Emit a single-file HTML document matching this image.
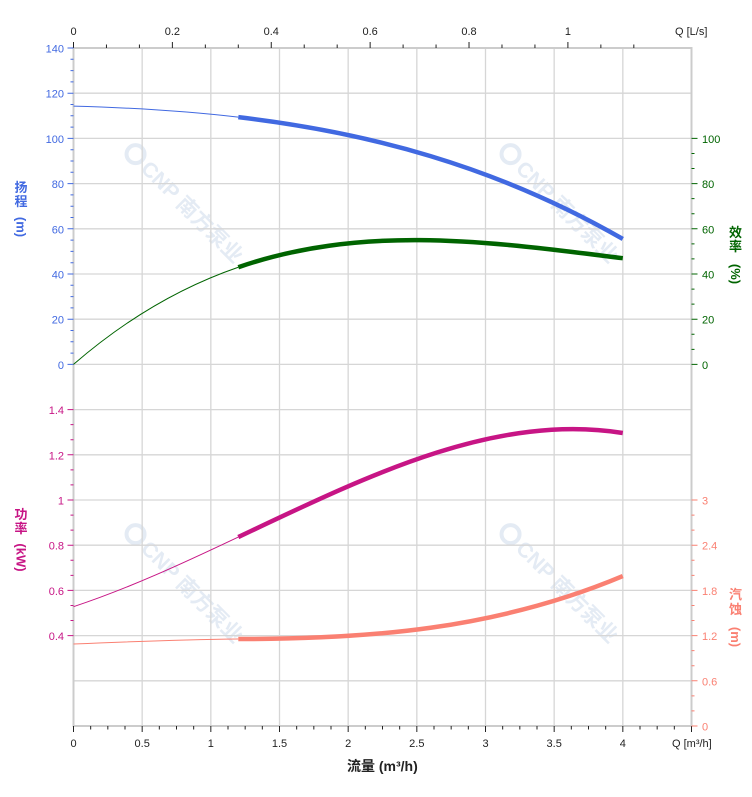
<!DOCTYPE html>
<html><head><meta charset="utf-8"><style>
html,body{margin:0;padding:0;background:#fff;}
svg{display:block;font-family:"Liberation Sans","Noto Sans CJK SC",sans-serif;}
</style></head><body>
<svg width="752" height="797" viewBox="0 0 752 797" xmlns="http://www.w3.org/2000/svg">
<rect width="752" height="797" fill="#fff"/>
<!-- watermarks -->
<g fill="#e4ebf4" stroke="none" font-weight="bold" font-size="21">
<g transform="translate(190,210) rotate(45)"><circle cx="-78" cy="-1" r="9" fill="none" stroke="#e4ebf4" stroke-width="4"/><text x="-64" y="7">CNP 南方泵业</text></g>
<g transform="translate(565,210) rotate(45)"><circle cx="-78" cy="-1" r="9" fill="none" stroke="#e4ebf4" stroke-width="4"/><text x="-64" y="7">CNP 南方泵业</text></g>
<g transform="translate(190,590) rotate(45)"><circle cx="-78" cy="-1" r="9" fill="none" stroke="#e4ebf4" stroke-width="4"/><text x="-64" y="7">CNP 南方泵业</text></g>
<g transform="translate(565,590) rotate(45)"><circle cx="-78" cy="-1" r="9" fill="none" stroke="#e4ebf4" stroke-width="4"/><text x="-64" y="7">CNP 南方泵业</text></g>
</g>
<!-- grid -->
<path fill="none" stroke="#d6d6d6" stroke-width="1.3" d="M73.5 93.2H691.5M73.5 138.4H691.5M73.5 183.6H691.5M73.5 228.8H691.5M73.5 274H691.5M73.5 319.2H691.5M73.5 364.4H691.5M73.5 409.6H691.5M73.5 454.8H691.5M73.5 500H691.5M73.5 545.2H691.5M73.5 590.4H691.5M73.5 635.6H691.5M73.5 680.8H691.5
M142.17 48V726M210.83 48V726M279.5 48V726M348.17 48V726M416.83 48V726M485.5 48V726M554.17 48V726M622.83 48V726"/>
<rect x="73.5" y="48" width="618" height="678" fill="none" stroke="#cccccc" stroke-width="2"/>
<!-- top ticks -->
<path fill="none" stroke="#222" stroke-width="1" d="M73.5 42v6M172.38 42v6M271.26 42v6M370.14 42v6M469.02 42v6M567.9 42v6
M106.46 44.5v3.5M139.42 44.5v3.5M205.34 44.5v3.5M238.3 44.5v3.5M304.22 44.5v3.5M337.18 44.5v3.5M403.1 44.5v3.5M436.06 44.5v3.5M501.98 44.5v3.5M534.94 44.5v3.5M600.86 44.5v3.5M633.82 44.5v3.5"/>
<!-- bottom ticks -->
<path fill="none" stroke="#222" stroke-width="1" d="M73.5 726v6M142.17 726v6M210.83 726v6M279.5 726v6M348.17 726v6M416.83 726v6M485.5 726v6M554.17 726v6M622.83 726v6M691.5 726v6
M90.67 726v3.5M107.83 726v3.5M125 726v3.5M159.33 726v3.5M176.5 726v3.5M193.67 726v3.5M228 726v3.5M245.17 726v3.5M262.33 726v3.5M296.67 726v3.5M313.83 726v3.5M331 726v3.5M365.33 726v3.5M382.5 726v3.5M399.67 726v3.5M434 726v3.5M451.17 726v3.5M468.33 726v3.5M502.67 726v3.5M519.83 726v3.5M537 726v3.5M571.33 726v3.5M588.5 726v3.5M605.67 726v3.5M640 726v3.5M657.17 726v3.5M674.33 726v3.5"/>
<!-- head ticks -->
<path fill="none" stroke="#4169e1" stroke-width="1" d="M67.5 364.4h6M67.5 319.2h6M67.5 274h6M67.5 228.8h6M67.5 183.6h6M67.5 138.4h6M67.5 93.2h6M67.5 48h6
M70.5 353.1h3M70.5 341.8h3M70.5 330.5h3M70.5 307.9h3M70.5 296.6h3M70.5 285.3h3M70.5 262.7h3M70.5 251.4h3M70.5 240.1h3M70.5 217.5h3M70.5 206.2h3M70.5 194.9h3M70.5 172.3h3M70.5 161h3M70.5 149.7h3M70.5 127.1h3M70.5 115.8h3M70.5 104.5h3M70.5 81.9h3M70.5 70.6h3M70.5 59.3h3"/>
<!-- power ticks -->
<path fill="none" stroke="#c71585" stroke-width="1" d="M67.5 409.6h6M67.5 454.8h6M67.5 500h6M67.5 545.2h6M67.5 590.4h6M67.5 635.6h6
M70.5 424.67h3M70.5 439.73h3M70.5 469.87h3M70.5 484.93h3M70.5 515.07h3M70.5 530.13h3M70.5 560.27h3M70.5 575.33h3M70.5 605.47h3M70.5 620.53h3"/>
<!-- efficiency ticks -->
<path fill="none" stroke="#006400" stroke-width="1" d="M691.5 364.4h6M691.5 319.2h6M691.5 274h6M691.5 228.8h6M691.5 183.6h6M691.5 138.4h6
M691.5 349.33h3M691.5 334.27h3M691.5 304.13h3M691.5 289.07h3M691.5 258.93h3M691.5 243.87h3M691.5 213.73h3M691.5 198.67h3M691.5 168.53h3M691.5 153.47h3"/>
<!-- npsh ticks -->
<path fill="none" stroke="#fa8072" stroke-width="1" d="M691.5 726h6M691.5 680.8h6M691.5 635.6h6M691.5 590.4h6M691.5 545.2h6M691.5 500h6
M691.5 710.93h3M691.5 695.87h3M691.5 665.73h3M691.5 650.67h3M691.5 620.53h3M691.5 605.47h3M691.5 575.33h3M691.5 560.27h3M691.5 530.13h3M691.5 515.07h3"/>
<!-- curves -->
<g fill="none" stroke-linecap="butt">
<path stroke="#4169e1" stroke-width="1" d="M73.5 106.08C128.43 107.62 183.37 110.73 238.3 117.17"/>
<path stroke="#4169e1" stroke-width="4.5" d="M238.3 117.17C366.48 132.2 494.65 165.36 622.8 238.97"/>
<path stroke="#006400" stroke-width="1" d="M73.5 364.4C128.43 316.78 183.37 286.14 238.3 267.22"/>
<path stroke="#006400" stroke-width="4.5" d="M238.3 267.22C366.48 223.06 494.65 242.54 622.8 258.18"/>
<path stroke="#c71585" stroke-width="1" d="M73.5 606.67C128.43 588.56 183.37 563.07 238.3 537.04"/>
<path stroke="#c71585" stroke-width="4.5" d="M238.3 537.04C366.48 476.32 494.65 412.67 622.8 432.99"/>
<path stroke="#fa8072" stroke-width="1" d="M73.5 644.04C128.43 641.63 183.37 639.6 238.3 638.99"/>
<path stroke="#fa8072" stroke-width="4.5" d="M238.3 638.99C366.48 639.1 494.65 629.88 622.8 576.09"/>
</g>
<!-- tick labels -->
<g font-size="11" fill="#4169e1" text-anchor="end">
<text x="64" y="52.5">140</text><text x="64" y="97.7">120</text><text x="64" y="142.9">100</text><text x="64" y="188.1">80</text><text x="64" y="233.3">60</text><text x="64" y="278.5">40</text><text x="64" y="323.7">20</text><text x="64" y="368.9">0</text>
</g>
<g font-size="11" fill="#c71585" text-anchor="end">
<text x="64" y="414.1">1.4</text><text x="64" y="459.3">1.2</text><text x="64" y="504.5">1</text><text x="64" y="549.7">0.8</text><text x="64" y="594.9">0.6</text><text x="64" y="640.1">0.4</text>
</g>
<g font-size="11" fill="#006400">
<text x="702" y="142.9">100</text><text x="702" y="188.1">80</text><text x="702" y="233.3">60</text><text x="702" y="278.5">40</text><text x="702" y="323.7">20</text><text x="702" y="368.9">0</text>
</g>
<g font-size="11" fill="#fa8072">
<text x="702" y="504.5">3</text><text x="702" y="549.7">2.4</text><text x="702" y="594.9">1.8</text><text x="702" y="640.1">1.2</text><text x="702" y="685.3">0.6</text><text x="702" y="730.5">0</text>
</g>
<g font-size="11" fill="#222" text-anchor="middle">
<text x="73.5" y="35">0</text><text x="172.38" y="35">0.2</text><text x="271.26" y="35">0.4</text><text x="370.14" y="35">0.6</text><text x="469.02" y="35">0.8</text><text x="567.9" y="35">1</text>
<text x="73.5" y="747">0</text><text x="142.17" y="747">0.5</text><text x="210.83" y="747">1</text><text x="279.5" y="747">1.5</text><text x="348.17" y="747">2</text><text x="416.83" y="747">2.5</text><text x="485.5" y="747">3</text><text x="554.17" y="747">3.5</text><text x="622.83" y="747">4</text>
</g>
<text x="675" y="35" font-size="11" fill="#222">Q [L/s]</text>
<text x="672" y="747" font-size="11" fill="#222">Q [m³/h]</text>
<text x="347" y="771" font-size="14" font-weight="bold" fill="#222">流量 (m³/h)</text>
<!-- axis titles -->
<g font-size="13" font-weight="bold" text-anchor="middle">
<g fill="#4169e1"><text x="21" y="192">扬</text><text x="21" y="206">程</text><text transform="translate(21,227) rotate(90)" y="4.5">(m)</text></g>
<g fill="#c71585"><text x="21" y="519">功</text><text x="21" y="533">率</text><text transform="translate(21,557.5) rotate(90)" y="4.5">(kW)</text></g>
<g fill="#006400"><text x="735.5" y="237">效</text><text x="735.5" y="251">率</text><text transform="translate(735.5,274) rotate(90)" y="4.5">(%)</text></g>
<g fill="#fa8072"><text x="735.5" y="599">汽</text><text x="735.5" y="614">蚀</text><text transform="translate(735.5,637) rotate(90)" y="4.5">(m)</text></g>
</g>
</svg>
</body></html>
